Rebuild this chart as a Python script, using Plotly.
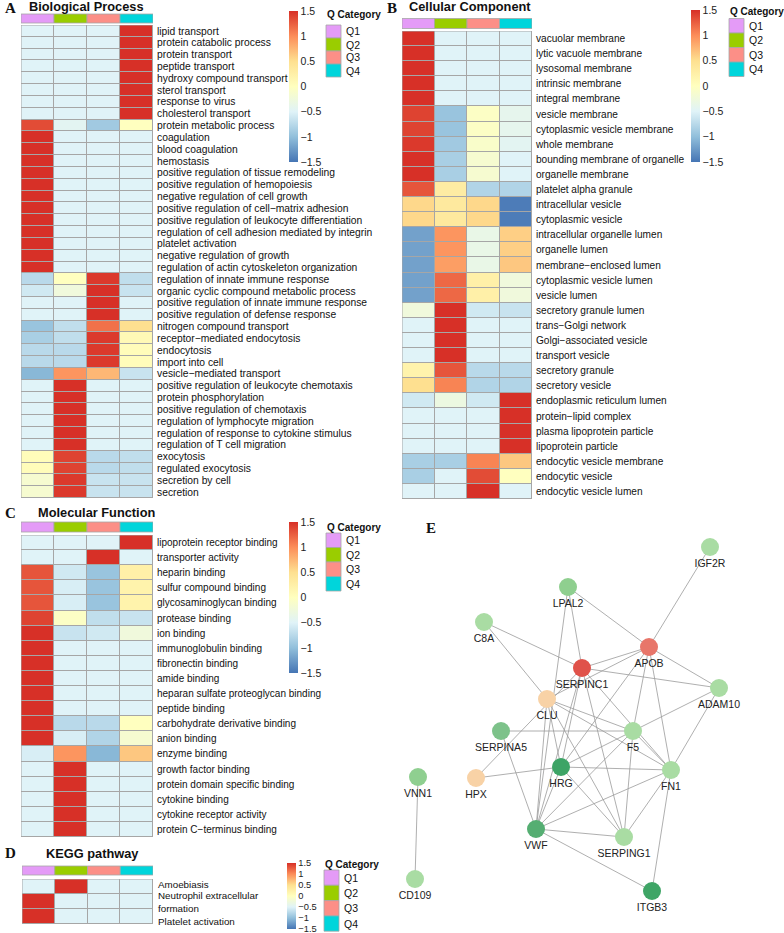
import plotly.graph_objects as go

W, H = 784, 933


def px(x):
    return x / W


def py(y):
    return 1 - y / H


# ---------------- data ----------------
q_labels = ["Q1", "Q2", "Q3", "Q4"]
q_colors = ["#E49BF7", "#9ACD00", "#FC8F87", "#00D5DB"]
heat_colors = ["#4575B4", "#91BFDB", "#E0F3F8", "#FFFFBF", "#FEE090", "#FC8D59", "#D73027"]
cb_ticks = [1.5, 1, 0.5, 0, -0.5, -1, -1.5]
cb_ticktext = ["1.5", "1", "0.5", "0", "\u22120.5", "\u22121", "\u22121.5"]

bp_terms = [
    "lipid transport", "protein catabolic process", "protein transport", "peptide transport",
    "hydroxy compound transport", "sterol transport", "response to virus", "cholesterol transport",
    "protein metabolic process", "coagulation", "blood coagulation", "hemostasis",
    "positive regulation of tissue remodeling", "positive regulation of hemopoiesis",
    "negative regulation of cell growth", "positive regulation of cell\u2212matrix adhesion",
    "positive regulation of leukocyte differentiation",
    "regulation of cell adhesion mediated by integrin", "platelet activation",
    "negative regulation of growth", "regulation of actin cytoskeleton organization",
    "regulation of innate immune response", "organic cyclic compound metabolic process",
    "positive regulation of innate immune response", "positive regulation of defense response",
    "nitrogen compound transport", "receptor\u2212mediated endocytosis", "endocytosis",
    "import into cell", "vesicle\u2212mediated transport",
    "positive regulation of leukocyte chemotaxis", "protein phosphorylation",
    "positive regulation of chemotaxis", "regulation of lymphocyte migration",
    "regulation of response to cytokine stimulus", "regulation of T cell migration",
    "exocytosis", "regulated exocytosis", "secretion by cell", "secretion",
]
bp_values = [
    [-0.5, -0.5, -0.5, 1.5], [-0.5, -0.5, -0.5, 1.5], [-0.5, -0.5, -0.5, 1.5], [-0.5, -0.5, -0.5, 1.5],
    [-0.5, -0.5, -0.5, 1.5], [-0.5, -0.5, -0.5, 1.5], [-0.5, -0.5, -0.5, 1.5], [-0.5, -0.5, -0.5, 1.5],
    [1.35, -0.45, -0.9, 0.0], [1.5, -0.5, -0.5, -0.5], [1.5, -0.5, -0.5, -0.5], [1.5, -0.5, -0.5, -0.5],
    [1.5, -0.5, -0.5, -0.5], [1.5, -0.5, -0.5, -0.5], [1.5, -0.5, -0.5, -0.5], [1.5, -0.5, -0.5, -0.5],
    [1.5, -0.5, -0.5, -0.5], [1.5, -0.5, -0.5, -0.5], [1.5, -0.5, -0.5, -0.5], [1.5, -0.5, -0.5, -0.5],
    [1.5, -0.5, -0.5, -0.5],
    [-0.75, 0.0, 1.45, -0.7], [-0.6, -0.25, 1.5, -0.65], [-0.5, -0.5, 1.5, -0.5], [-0.5, -0.5, 1.5, -0.5],
    [-0.95, -0.7, 1.15, 0.5], [-0.85, -0.7, 1.45, 0.1], [-0.75, -0.75, 1.45, 0.05], [-0.75, -0.75, 1.45, 0.05],
    [-1.05, 0.95, 0.75, -0.65],
    [-0.5, 1.5, -0.5, -0.5], [-0.5, 1.5, -0.5, -0.5], [-0.5, 1.5, -0.5, -0.5], [-0.5, 1.5, -0.5, -0.5],
    [-0.5, 1.5, -0.5, -0.5], [-0.5, 1.5, -0.5, -0.5],
    [0.05, 1.4, -0.75, -0.7], [0.05, 1.4, -0.75, -0.7], [-0.15, 1.45, -0.65, -0.65], [-0.15, 1.45, -0.65, -0.65],
]

cc_terms = [
    "vacuolar membrane", "lytic vacuole membrane", "lysosomal membrane", "intrinsic membrane",
    "integral membrane", "vesicle membrane", "cytoplasmic vesicle membrane", "whole membrane",
    "bounding membrane of organelle", "organelle membrane", "platelet alpha granule",
    "intracellular vesicle", "cytoplasmic vesicle", "intracellular organelle lumen",
    "organelle lumen", "membrane\u2212enclosed lumen", "cytoplasmic vesicle lumen", "vesicle lumen",
    "secretory granule lumen", "trans\u2212Golgi network", "Golgi\u2212associated vesicle",
    "transport vesicle", "secretory granule", "secretory vesicle", "endoplasmic reticulum lumen",
    "protein\u2212lipid complex", "plasma lipoprotein particle", "lipoprotein particle",
    "endocytic vesicle membrane", "endocytic vesicle", "endocytic vesicle lumen",
]
cc_values = [
    [1.5, -0.5, -0.5, -0.5], [1.5, -0.5, -0.5, -0.5], [1.5, -0.5, -0.5, -0.5], [1.5, -0.5, -0.5, -0.5],
    [1.5, -0.5, -0.5, -0.5], [1.4, -0.95, -0.05, -0.4], [1.4, -0.95, -0.05, -0.4], [1.45, -0.9, -0.1, -0.45],
    [1.5, -0.85, -0.15, -0.5], [1.5, -0.85, -0.15, -0.5], [1.3, 0.3, -0.8, -0.8],
    [0.55, 0.35, 0.55, -1.45], [0.55, 0.35, 0.55, -1.45], [-1.2, 0.95, -0.35, 0.6],
    [-1.2, 0.95, -0.35, 0.6], [-1.2, 0.9, -0.35, 0.65], [-1.2, 1.2, 0.25, -0.25], [-1.2, 1.2, 0.25, -0.25],
    [-0.25, 1.5, -0.6, -0.65], [-0.5, 1.5, -0.5, -0.5], [-0.5, 1.5, -0.5, -0.5],
    [-0.5, 1.5, -0.5, -0.5], [0.2, 1.3, -0.75, -0.75], [0.5, 1.05, -0.8, -0.8], [-0.6, -0.3, -0.6, 1.5],
    [-0.5, -0.5, -0.5, 1.5], [-0.5, -0.5, -0.5, 1.5], [-0.5, -0.5, -0.5, 1.5],
    [-0.85, -0.85, 1.05, 0.65], [-0.85, -0.5, 1.35, 0.0], [-0.5, -0.5, 1.5, -0.5],
]

mf_terms = [
    "lipoprotein receptor binding", "transporter activity", "heparin binding",
    "sulfur compound binding", "glycosaminoglycan binding", "protease binding", "ion binding",
    "immunoglobulin binding", "fibronectin binding", "amide binding",
    "heparan sulfate proteoglycan binding", "peptide binding", "carbohydrate derivative binding",
    "anion binding", "enzyme binding", "growth factor binding", "protein domain specific binding",
    "cytokine binding", "cytokine receptor activity", "protein C\u2212terminus binding",
]
mf_values = [
    [-0.5, -0.5, -0.5, 1.5], [-0.5, -0.5, 1.5, -0.5], [1.3, -0.6, -0.95, 0.25],
    [1.3, -0.55, -0.95, 0.2], [1.3, -0.55, -0.95, 0.2], [1.4, -0.05, -0.7, -0.65], [1.5, -0.65, -0.6, -0.25],
    [1.5, -0.5, -0.5, -0.5], [1.5, -0.5, -0.5, -0.5], [1.5, -0.5, -0.5, -0.5],
    [1.5, -0.5, -0.5, -0.5], [1.5, -0.5, -0.5, -0.5], [1.5, -0.75, -0.75, 0.0],
    [1.5, -0.55, -0.8, -0.15], [-0.55, 0.95, -1.05, 0.65], [-0.5, 1.5, -0.5, -0.5], [-0.5, 1.5, -0.5, -0.5],
    [-0.5, 1.5, -0.5, -0.5], [-0.5, 1.5, -0.5, -0.5], [-0.5, 1.5, -0.5, -0.5],
]

kegg_terms = ["Amoebiasis", "Neutrophil extracellular<br>formation", "Platelet activation"]
kegg_values = [
    [-0.5, 1.5, -0.5, -0.5],
    [1.5, -0.5, -0.5, -0.5],
    [1.5, -0.5, -0.5, -0.5],
]

# network (layout coordinates of the PPI graph)
node_names = ["IGF2R", "LPAL2", "C8A", "APOB", "SERPINC1", "ADAM10", "CLU", "SERPINA5", "F5",
              "HRG", "FN1", "HPX", "VNN1", "VWF", "SERPING1", "CD109", "ITGB3"]
node_x = [710, 568, 484, 649, 582, 719, 547, 501, 633, 561, 671, 476, 418, 536, 624, 415, 652]
node_y = [547, 587, 622, 647, 668, 688, 699, 731, 731, 767, 770, 778, 777, 829, 837, 879, 891]
node_colors = ["#A9DCA3", "#8FCF8F", "#A9DCA3", "#E8766A", "#E0524A", "#A9DCA3", "#F8D2A6", "#7DC28A",
               "#A9DCA3", "#3DA466", "#A9DCA3", "#F8D2A6", "#8FCF90", "#55AE72", "#A9DCA3", "#A9DCA3",
               "#3FA566"]
edges = [
    ("IGF2R", "APOB"), ("LPAL2", "APOB"), ("LPAL2", "SERPINC1"), ("LPAL2", "VWF"),
    ("C8A", "SERPINC1"), ("C8A", "CLU"), ("APOB", "SERPINC1"), ("APOB", "CLU"),
    ("APOB", "ADAM10"), ("APOB", "F5"), ("APOB", "FN1"), ("APOB", "HRG"),
    ("SERPINC1", "ADAM10"), ("SERPINC1", "FN1"), ("SERPINC1", "HRG"), ("SERPINC1", "VWF"),
    ("SERPINC1", "SERPING1"), ("HPX", "SERPINC1"),
    ("CLU", "F5"), ("CLU", "FN1"), ("CLU", "HRG"), ("CLU", "VWF"), ("CLU", "SERPING1"),
    ("ADAM10", "F5"), ("ADAM10", "FN1"), ("SERPINA5", "F5"), ("SERPINA5", "VWF"),
    ("F5", "FN1"), ("F5", "HRG"), ("F5", "VWF"), ("F5", "SERPING1"),
    ("HRG", "FN1"), ("HRG", "HPX"), ("HRG", "VWF"), ("HRG", "SERPING1"),
    ("FN1", "VWF"), ("FN1", "SERPING1"), ("FN1", "ITGB3"),
    ("VWF", "SERPING1"), ("VWF", "ITGB3"), ("VNN1", "CD109"),
]

# ---------------- figure ----------------
FONT = "Liberation Sans, Arial, sans-serif"
SERIF = "Liberation Serif, Times New Roman, serif"
GRID = "#A6A6A6"

fig = go.Figure()
shapes = []
annotations = []

panels = [
    dict(terms=bp_terms, values=bp_values, ax="", hx=(21, 153), hy=(25, 498), bar=(14, 23),
         cb=(289, 11, 162), leg=(326, 15, 25, 13), fs=10.3, cbfs=10.5, title="Biological Process",
         tpos=(27, 7), letter="A", lpos=(3, 8), ticklabels=True),
    dict(terms=cc_terms, values=cc_values, ax="2", hx=(402, 532), hy=(31, 499), bar=(18.5, 28.5),
         cb=(691, 10, 162), leg=(729, 12, 18.5, 14.5), fs=10.1, cbfs=10.5, title="Cellular Component",
         tpos=(407, 7), letter="B", lpos=(385, 8), ticklabels=True),
    dict(terms=mf_terms, values=mf_values, ax="3", hx=(21, 153), hy=(535, 837), bar=(522, 532),
         cb=(289, 522, 673), leg=(326, 527, 533, 14.5), fs=10, cbfs=10.5, title="Molecular Function",
         tpos=(36, 512), letter="C", lpos=(3, 513), ticklabels=True),
    dict(terms=kegg_terms, values=kegg_values, ax="4", hx=(22, 153), hy=(879, 924), bar=(866, 875),
         cb=(287, 863, 929), leg=(324, 864, 870, 15.3), fs=9.8, cbfs=9.3, title="KEGG pathway",
         tpos=(44, 853), letter="D", lpos=(3, 853), ticklabels=False),
]

for p in panels:
    n = len(p["terms"])
    xa = "x" + p["ax"]
    ya = "y" + p["ax"]
    cbx, cby0, cby1 = p["cb"]
    fig.add_trace(go.Heatmap(
        z=p["values"], x=list(range(4)), y=list(range(n)),
        colorscale=[[i / 6, c] for i, c in enumerate(heat_colors)],
        zmin=-1.5, zmax=1.5, xgap=1, ygap=1, xaxis=xa, yaxis=ya, hoverinfo="skip",
        colorbar=dict(x=px(cbx), xanchor="left", y=py(cby0), yanchor="top",
                      len=cby1 - cby0, lenmode="pixels", thickness=9, thicknessmode="pixels",
                      outlinewidth=0, tickvals=cb_ticks, ticktext=cb_ticktext, ticks="",
                      ticklabeloverflow="allow",
                      tickfont=dict(size=p["cbfs"], family=FONT, color="#222"), xpad=0, ypad=0),
    ))
    fig.update_layout(**{
        "xaxis" + p["ax"]: dict(domain=[px(p["hx"][0]), px(p["hx"][1])], range=[-0.5, 3.5],
                                visible=False, anchor=ya, fixedrange=True),
        "yaxis" + p["ax"]: dict(domain=[py(p["hy"][1]), py(p["hy"][0])], range=[n - 0.5, -0.5],
                                side="right", anchor=xa, tickvals=list(range(n)), ticktext=p["terms"],
                                showticklabels=p["ticklabels"], ticklabelstandoff=3,
                                showgrid=False, zeroline=False, ticks="", showline=False,
                                tickfont=dict(size=p["fs"], family=FONT, color="#111"),
                                fixedrange=True),
    })
    # grid background and outer border
    shapes.append(dict(type="rect", xref=xa, yref=ya, x0=-0.5, x1=3.5, y0=-0.5, y1=n - 0.5,
                       fillcolor=GRID, line=dict(width=0), layer="below"))
    shapes.append(dict(type="rect", xref=xa, yref=ya, x0=-0.5, x1=3.5, y0=-0.5, y1=n - 0.5,
                       fillcolor="rgba(0,0,0,0)", line=dict(color=GRID, width=1), layer="above"))
    # column annotation bar
    for i, c in enumerate(q_colors):
        shapes.append(dict(type="rect", xref=xa, yref="paper", x0=i - 0.5, x1=i + 0.5,
                           y0=py(p["bar"][1]), y1=py(p["bar"][0]), fillcolor=c,
                           line=dict(color=GRID, width=0.8)))
    # legend
    lx, lty, lby, lbh = p["leg"]
    annotations.append(dict(x=px(lx - 1), y=py(lty), xref="paper", yref="paper", text="<b>Q Category</b>",
                            showarrow=False, xanchor="left", yanchor="middle",
                            font=dict(size=10, family=FONT, color="#111")))
    for i, (lab, c) in enumerate(zip(q_labels, q_colors)):
        y0 = lby + i * lbh
        shapes.append(dict(type="rect", xref="paper", yref="paper", x0=px(lx), x1=px(lx + 15),
                           y0=py(y0 + lbh), y1=py(y0), fillcolor=c, line=dict(color=GRID, width=0.8)))
        annotations.append(dict(x=px(lx + 18), y=py(y0 + lbh / 2), xref="paper", yref="paper", text=lab,
                                showarrow=False, xanchor="left", yanchor="middle",
                                font=dict(size=10.5, family=FONT, color="#111")))
    # titles
    annotations.append(dict(x=px(p["tpos"][0]), y=py(p["tpos"][1]), xref="paper", yref="paper",
                            text="<b>" + p["title"] + "</b>", showarrow=False, xanchor="left",
                            yanchor="middle", font=dict(size=12.8, family=FONT, color="#111")))
    annotations.append(dict(x=px(p["lpos"][0]), y=py(p["lpos"][1]), xref="paper", yref="paper",
                            text="<b>" + p["letter"] + "</b>", showarrow=False, xanchor="left",
                            yanchor="middle", font=dict(size=15, family=SERIF, color="#111")))

# KEGG row labels (placed as in the original, the long one wrapped over two lines)
kegg_label_lines = [("Amoebiasis", 0, -0.15), ("Neutrophil extracellular", 1, -0.4),
                    ("formation", 1, 0.45), ("Platelet activation", 2, 0.3)]
for text, row, off in kegg_label_lines:
    annotations.append(dict(x=3.5, y=row + off, xref="x4", yref="y4", text=text, showarrow=False,
                            xanchor="left", yanchor="middle", xshift=3,
                            font=dict(size=9.8, family=FONT, color="#111")))

# ---------------- network ----------------
idx = {name: i for i, name in enumerate(node_names)}
ex, ey = [], []
for a, b in edges:
    ex += [node_x[idx[a]], node_x[idx[b]], None]
    ey += [node_y[idx[a]], node_y[idx[b]], None]
fig.add_trace(go.Scatter(x=ex, y=ey, mode="lines", line=dict(color="#9A9A9A", width=0.8),
                         xaxis="x5", yaxis="y5", hoverinfo="skip", showlegend=False))
fig.add_trace(go.Scatter(x=node_x, y=node_y, mode="markers+text", text=node_names,
                         textposition="bottom center",
                         textfont=dict(size=10.5, family=FONT, color="#222"),
                         marker=dict(size=18, color=node_colors, line=dict(width=0)),
                         xaxis="x5", yaxis="y5", hoverinfo="skip", showlegend=False))
fig.update_layout(
    xaxis5=dict(domain=[px(395), 1], range=[395, 784], visible=False, anchor="y5", fixedrange=True),
    yaxis5=dict(domain=[0, py(505)], range=[933, 505], visible=False, anchor="x5", fixedrange=True),
)
annotations.append(dict(x=px(424), y=py(528), xref="paper", yref="paper", text="<b>E</b>",
                        showarrow=False, xanchor="left", yanchor="middle",
                        font=dict(size=15, family=SERIF, color="#111")))

fig.update_layout(
    width=W, height=H, margin=dict(l=0, r=0, t=0, b=0),
    paper_bgcolor="white", plot_bgcolor="rgba(0,0,0,0)",
    shapes=shapes, annotations=annotations, showlegend=False,
    font=dict(family=FONT),
)
fig.write_html("out.html", config={"displayModeBar": False},
               post_script="document.body.style.margin='0';document.body.style.overflow='hidden';")
